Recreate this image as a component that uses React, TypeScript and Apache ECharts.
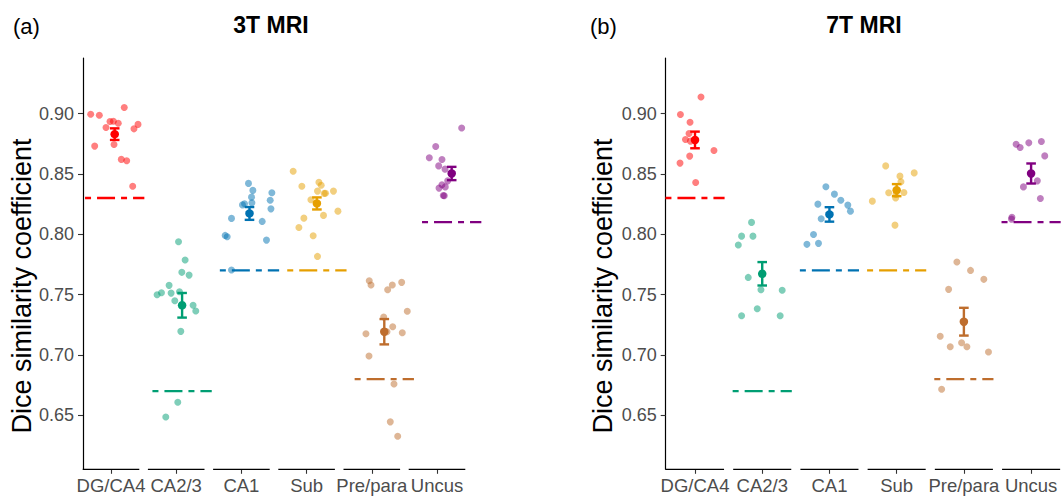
import React, { useEffect, useRef } from "react";
import * as echarts from "echarts";

// ---------- data ----------
const categories = ["DG/CA4", "CA2/3", "CA1", "Sub", "Pre/para", "Uncus"];
const colors = ["#FF0000", "#009E73", "#0072B2", "#E69F00", "#BE6D2D", "#800080"];
const thresholds = [0.83, 0.67, 0.77, 0.77, 0.68, 0.81];
const yTicks = [0.65, 0.7, 0.75, 0.8, 0.85, 0.9];

// 3T MRI: Dice values per subfield, and their horizontal jitter
const dsc3T = [
  [0.8994, 0.8986, 0.905, 0.8934, 0.8936, 0.892, 0.891, 0.8884, 0.8873, 0.873, 0.8743, 0.862, 0.8608, 0.8398],
  [0.7937, 0.7786, 0.7684, 0.7661, 0.7576, 0.7515, 0.7498, 0.7512, 0.7523, 0.7449, 0.7411, 0.7363, 0.7195, 0.6608, 0.6486],
  [0.8421, 0.8363, 0.8343, 0.8307, 0.8282, 0.826, 0.8252, 0.8243, 0.821, 0.8131, 0.8106, 0.799, 0.7979, 0.7951, 0.7703],
  [0.8522, 0.8431, 0.8406, 0.8398, 0.8357, 0.834, 0.8338, 0.8357, 0.8285, 0.8191, 0.8156, 0.8133, 0.8056, 0.7987, 0.7816],
  [0.7614, 0.7579, 0.7579, 0.7601, 0.754, 0.7361, 0.7314, 0.7233, 0.7175, 0.7184, 0.7192, 0.6991, 0.6759, 0.6445, 0.6326],
  [0.888, 0.8727, 0.8746, 0.8633, 0.8619, 0.8566, 0.8539, 0.8442, 0.8426, 0.8409, 0.8382, 0.8392, 0.8321, 0.8318, 0.8144],
];
const jitter3T = [
  [-0.356, -0.228, 0.142, -0.07, -0.02, 0.053, 0.346, -0.129, 0.286, -0.297, -0.01, 0.098, 0.178, 0.267],
  [-0.053, 0.045, -0.004, 0.104, -0.193, -0.306, -0.371, -0.163, -0.039, -0.108, 0.163, 0.203, -0.019, -0.064, -0.242],
  [-0.015, 0.05, 0.332, 0.03, 0.307, 0.036, -0.074, -0.104, 0.318, -0.267, 0.188, -0.361, -0.331, 0.252, -0.267],
  [-0.352, 0.03, 0.064, -0.223, 0.009, 0.128, 0.108, 0.246, -0.089, 0.312, 0.098, -0.193, -0.267, -0.055, 0.009],
  [-0.223, -0.197, 0.119, 0.258, 0.05, 0.341, -0.009, 0.125, -0.272, 0.267, 0.04, -0.227, 0.144, 0.089, 0.199],
  [0.148, -0.237, 0.257, -0.332, -0.144, -0.193, -0.099, -0.059, 0.316, -0.144, -0.188, -0.095, -0.125, -0.11, 0.242],
];
const mean3T = [0.8829, 0.7411, 0.8172, 0.8255, 0.7192, 0.8503];
const se3T = [0.0048, 0.0102, 0.0053, 0.005, 0.0105, 0.0055];

// 7T MRI
const dsc7T = [
  [0.9137, 0.8992, 0.8928, 0.8834, 0.8785, 0.8771, 0.8694, 0.8647, 0.8589, 0.8429],
  [0.8098, 0.7984, 0.7984, 0.791, 0.7642, 0.754, 0.7535, 0.7383, 0.7325, 0.7325],
  [0.8393, 0.8332, 0.8282, 0.8249, 0.8241, 0.8191, 0.8128, 0.7998, 0.7916, 0.7924],
  [0.8566, 0.8508, 0.8481, 0.8434, 0.8343, 0.8346, 0.8301, 0.8274, 0.8075, 0.833],
  [0.7769, 0.77, 0.7626, 0.7543, 0.7154, 0.7101, 0.7068, 0.7068, 0.7024, 0.6715],
  [0.8746, 0.8719, 0.8757, 0.8768, 0.8649, 0.8442, 0.8392, 0.8296, 0.8125, 0.814],
];
const jitter7T = [
  [0.089, -0.217, -0.074, -0.089, -0.142, -0.068, 0.282, -0.079, -0.223, 0.01],
  [-0.159, -0.307, -0.138, -0.356, -0.208, -0.019, 0.297, -0.074, -0.307, 0.267],
  [-0.053, 0.074, 0.169, -0.172, 0.273, 0.312, -0.123, -0.237, -0.335, -0.163],
  [-0.163, 0.261, 0.049, 0.064, -0.119, 0.108, -0.015, -0.362, -0.025, -0.01],
  [-0.104, 0.099, 0.297, -0.227, -0.352, -0.034, -0.203, 0.045, 0.366, -0.331],
  [-0.223, -0.163, -0.034, 0.153, 0.203, 0.093, -0.114, 0.138, -0.292, -0.285],
];
const mean7T = [0.8781, 0.7672, 0.8164, 0.8365, 0.7275, 0.8503];
const se7T = [0.0069, 0.0097, 0.006, 0.005, 0.0115, 0.0083];

const panels = [
  { title: "3T MRI", letter: "(a)", dsc: dsc3T, jitter: jitter3T, mean: mean3T, se: se3T },
  { title: "7T MRI", letter: "(b)", dsc: dsc7T, jitter: jitter7T, mean: mean7T, se: se7T },
];

// ---------- layout ----------
const Y_MIN = 0.6052;
const Y_MAX = 0.946;
const FONT = "'Liberation Sans', Arial, Helvetica, sans-serif";
const layout = [
  { left: 83, width: 382.3, labMin: 0.5706, labMax: 6.434, segHalf: 0.434, datMin: 0.5297, datMax: 6.202, titleX: 271, letterX: 13, ylabX: 22 },
  { left: 665.7, width: 394.3, labMin: 0.564, labMax: 6.43, segHalf: 0.432, datMin: 0.564, datMax: 6.43, titleX: 864, letterX: 590, ylabX: 603 },
];
const TOP = 58;
const HEIGHT = 411.3;

function buildOption() {
  const grid: any[] = [];
  const xAxis: any[] = [];
  const yAxis: any[] = [];
  const series: any[] = [];
  const graphic: any[] = [];
  const idx = categories.map((_, i) => i + 1);

  panels.forEach((p, pi) => {
    const L = layout[pi];
    grid.push({ left: L.left, top: TOP, width: L.width, height: HEIGHT, containLabel: false });
    xAxis.push({
      gridIndex: pi,
      type: "value",
      min: L.labMin,
      max: L.labMax,
      axisLine: { show: false },
      splitLine: { show: false },
      axisTick: { show: true, customValues: idx, length: 4.5, lineStyle: { color: "#333", width: 1.1 } },
      axisLabel: {
        show: true,
        customValues: idx,
        formatter: (v: number) => categories[Math.round(v) - 1] ?? "",
        fontSize: 18.5,
        color: "#4D4D4D",
        fontFamily: FONT,
        margin: 7,
      },
    });
    xAxis.push({ gridIndex: pi, type: "value", min: L.datMin, max: L.datMax, show: false });
    yAxis.push({
      gridIndex: pi,
      type: "value",
      min: Y_MIN,
      max: Y_MAX,
      axisLine: { show: true, lineStyle: { color: "#000", width: 1.2 } },
      axisTick: { show: true, customValues: yTicks, length: 5, lineStyle: { color: "#333", width: 1.1 } },
      axisLabel: {
        customValues: yTicks,
        formatter: (v: number) => v.toFixed(2),
        fontSize: 18,
        color: "#4D4D4D",
        fontFamily: FONT,
        margin: 9,
      },
      splitLine: { show: false },
    });

    const labAx = pi * 2;
    const datAx = pi * 2 + 1;

    // segmented x axis line
    series.push({
      type: "custom",
      xAxisIndex: labAx,
      yAxisIndex: pi,
      clip: false,
      silent: true,
      data: idx.map((i) => [i, Y_MIN]),
      renderItem: (params: any, api: any) => {
        const i = api.value(0);
        const a = api.coord([i - L.segHalf, Y_MIN]);
        const b = api.coord([i + L.segHalf, Y_MIN]);
        return { type: "line", shape: { x1: a[0], y1: a[1], x2: b[0], y2: b[1] }, style: { stroke: "#000", lineWidth: 1.2 } };
      },
    });

    // threshold dashed lines
    series.push({
      type: "custom",
      xAxisIndex: datAx,
      yAxisIndex: pi,
      clip: false,
      silent: true,
      data: thresholds.map((t, i) => [i + 1, t, i]),
      renderItem: (params: any, api: any) => {
        const i = api.value(0);
        const t = api.value(1);
        const c = colors[api.value(2)];
        const a = api.coord([i - 0.44, t]);
        const b = api.coord([i + 0.44, t]);
        return {
          type: "line",
          shape: { x1: a[0], y1: a[1], x2: b[0], y2: b[1] },
          style: { stroke: c, lineWidth: 2.3, lineDash: [6, 6, 18, 6] },
        };
      },
    });

    // jittered points
    const pts: any[] = [];
    p.dsc.forEach((vals, ci) => {
      vals.forEach((v, k) => {
        pts.push({ value: [ci + 1 + p.jitter[ci][k], v], itemStyle: { color: colors[ci], opacity: 0.5 } });
      });
    });
    series.push({
      type: "scatter",
      xAxisIndex: datAx,
      yAxisIndex: pi,
      symbolSize: 7,
      silent: true,
      data: pts,
    });

    // error bars
    series.push({
      type: "custom",
      xAxisIndex: datAx,
      yAxisIndex: pi,
      clip: false,
      silent: true,
      data: p.mean.map((m, i) => [i + 1, m - p.se[i], m + p.se[i], i]),
      renderItem: (params: any, api: any) => {
        const i = api.value(0);
        const c = colors[api.value(3)];
        const lo = api.coord([i, api.value(1)]);
        const hi = api.coord([i, api.value(2)]);
        const w = 4.8;
        const st = { stroke: c, lineWidth: 2.4 };
        return {
          type: "group",
          children: [
            { type: "line", shape: { x1: lo[0], y1: lo[1], x2: hi[0], y2: hi[1] }, style: st },
            { type: "line", shape: { x1: lo[0] - w, y1: lo[1], x2: lo[0] + w, y2: lo[1] }, style: st },
            { type: "line", shape: { x1: hi[0] - w, y1: hi[1], x2: hi[0] + w, y2: hi[1] }, style: st },
          ],
        };
      },
    });

    // means
    series.push({
      type: "scatter",
      xAxisIndex: datAx,
      yAxisIndex: pi,
      symbolSize: 8.5,
      silent: true,
      data: p.mean.map((m, i) => ({ value: [i + 1, m], itemStyle: { color: colors[i], opacity: 1 } })),
    });

    graphic.push({
      type: "text",
      x: L.titleX,
      y: 24.5,
      style: { text: p.title, font: `bold 23px ${FONT}`, fill: "#000", textAlign: "center", textVerticalAlign: "middle" },
    });
    graphic.push({
      type: "text",
      x: L.letterX,
      y: 26,
      style: { text: p.letter, font: `22px ${FONT}`, fill: "#000", textAlign: "left", textVerticalAlign: "middle" },
    });
    graphic.push({
      type: "text",
      x: L.ylabX,
      y: 286,
      rotation: Math.PI / 2,
      style: {
        text: "Dice similarity coefficient",
        font: `27px ${FONT}`,
        fill: "#000",
        textAlign: "center",
        textVerticalAlign: "middle",
      },
    });
  });

  return { animation: false, backgroundColor: "#fff", grid, xAxis, yAxis, series, graphic };
}

export default function App() {
  const ref = useRef<HTMLDivElement>(null);
  useEffect(() => {
    if (!ref.current) return;
    const chart = echarts.init(ref.current, undefined, { renderer: "svg" });
    chart.setOption(buildOption() as any);
    return () => chart.dispose();
  }, []);
  return (
    <div
      ref={ref}
      style={{ position: "fixed", left: 0, top: 0, width: 1063, height: 497, background: "#fff" }}
    />
  );
}
